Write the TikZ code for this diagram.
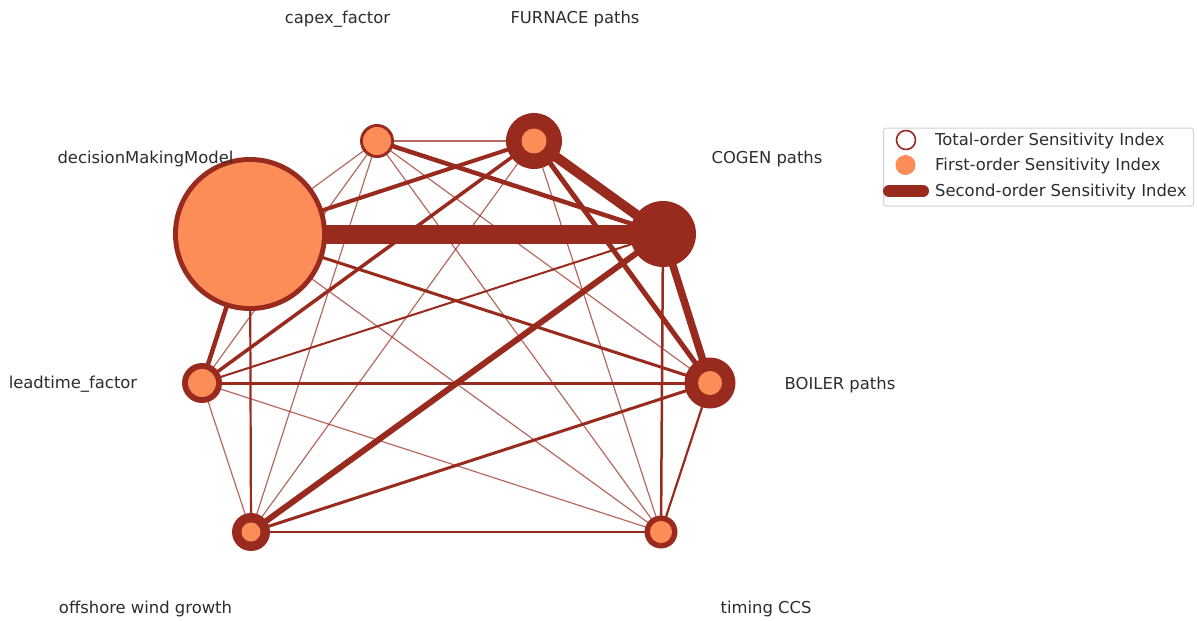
\documentclass[tikz,border=0pt]{standalone}
\usepackage{fontspec}
\setmainfont{DejaVu Sans}
\usetikzlibrary{backgrounds}
\definecolor{sdark}{RGB}{153,42,30}
\definecolor{sfirst}{RGB}{252,141,89}
\definecolor{slabel}{RGB}{45,45,45}
\begin{document}
\begin{tikzpicture}[x=1pt,y=-1pt,
  lbl/.style={font=\fontsize{16.4}{19}\selectfont, text=slabel, inner sep=0pt},
  total/.style={circle, fill=sdark, inner sep=0pt, minimum size=#1},
  link/.style={draw=sdark, line width=#1},
  faint/.style={draw=sdark, line width=1.2pt, opacity=0.7}]

% sensitivity nodes: dark disc = total order
\node[total=154pt] (D) at (250,234) {};
\node[total=34pt]  (C) at (377,141) {};
\node[total=56pt]  (F) at (534,141) {};
\node[total=66pt]  (G) at (663,234) {};
\node[total=51pt]  (B) at (710,383) {};
\node[total=33pt]  (T) at (661,532) {};
\node[total=38pt]  (O) at (251,532) {};
\node[total=40pt]  (L) at (202,383) {};

% first order
\fill[sfirst] (D.center) circle[radius=72pt];
\fill[sfirst] (C.center) circle[radius=14pt];
\fill[sfirst] (F.center) circle[radius=12.5pt];
\fill[sfirst] (B.center) circle[radius=12pt];
\fill[sfirst] (T.center) circle[radius=11pt];
\fill[sfirst] (O.center) circle[radius=9.5pt];
\fill[sfirst] (L.center) circle[radius=14pt];

% second order links
\begin{scope}[on background layer]
\fill[white] (0,0) rectangle (1197,621);
\foreach \a/\b in {D/C,D/T,C/F,C/B,C/T,C/O,C/L,F/T,F/O,T/L,O/L}
  \draw[faint] (\a.center) -- (\b.center);
\foreach \a/\b/\w in {D/F/4,D/G/19,D/B/3,D/O/2.2,D/L/4.5,C/G/4.5,F/G/10,F/B/5,
    F/L/3.5,G/B/7.5,G/T/2.5,G/O/6,G/L/2,B/T/2.2,B/O/3,B/L/3,T/O/2.2}
  \draw[link=\w pt] (\a.center) -- (\b.center);
\end{scope}

% parameter names
\node[lbl] (tC) at (337.5,19) {capex\_factor};
\node[lbl] (tF) at (575,19) {FURNACE paths};
\node[lbl] (tG) at (767,159) {COGEN paths};
\node[lbl] (tD) at (145.5,159) {decisionMakingModel};
\node[lbl] (tL) at (73,384.5) {leadtime\_factor};
\node[lbl] (tB) at (840,384.5) {BOILER paths};
\node[lbl] (tO) at (145.5,609) {offshore wind growth};
\node[lbl] (tT) at (766,609) {timing CCS};

% legend
\node[draw=black!18, line width=1pt, rounded corners=3pt, minimum width=310pt,
  minimum height=78pt, anchor=north west, inner sep=0pt] (leg) at (883,127.5) {};
\node[circle, draw=sdark, fill=white, line width=1.6pt, minimum size=19pt,
  inner sep=0pt] (ltot) at (906,140) {};
\node[circle, fill=sfirst, minimum size=20pt, inner sep=0pt] (lfirst) at (905.5,165) {};
\coordinate (lsa) at (889,191);
\coordinate (lsb) at (923,191);
\draw[sdark, line width=12pt, line cap=round] (lsa) -- (lsb);
\node[lbl, anchor=west] (ttot) at (935,141) {Total-order Sensitivity Index};
\node[lbl, anchor=west] (tfirst) at (935,166) {First-order Sensitivity Index};
\node[lbl, anchor=west] (tsec) at (935,192) {Second-order Sensitivity Index};
\end{tikzpicture}
\end{document}
